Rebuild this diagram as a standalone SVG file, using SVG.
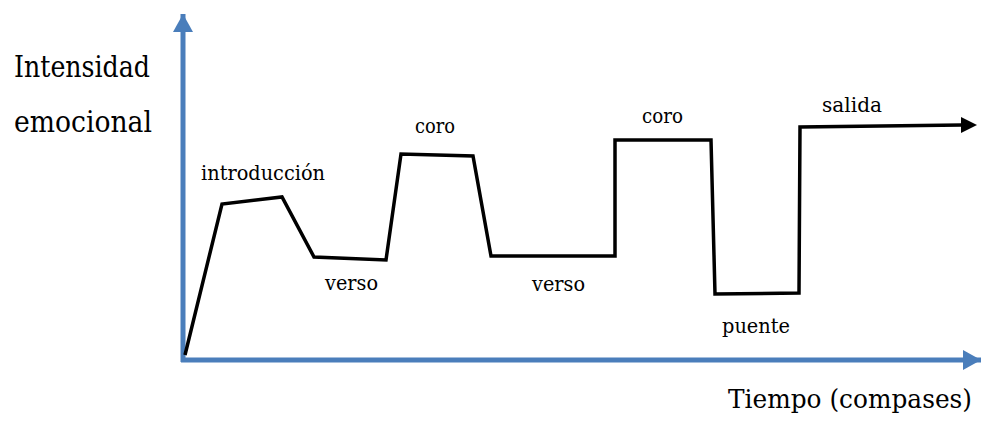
<svg xmlns="http://www.w3.org/2000/svg" width="986" height="421" viewBox="0 0 986 421">
<style>
.axis{stroke:#4a7ebb;stroke-width:5;fill:none}
.curve{stroke:#000;stroke-width:3.5;fill:none;stroke-linejoin:miter}
text{font-family:"DejaVu Serif","Liberation Serif","Times New Roman",serif;fill:#000}
.big{font-size:30px}
.lbl{font-size:21px}
</style>
<defs>
<marker id="ab" markerUnits="userSpaceOnUse" markerWidth="20" markerHeight="22" refX="18" refY="10" orient="auto">
<path d="M0,0 L18,10 L0,20 Z" fill="#4a7ebb"/>
</marker>
</defs>
<rect width="986" height="421" fill="#fff"/>
<g id="connectors">
<line id="y-axis" class="axis" x1="183" y1="362" x2="183" y2="14" marker-end="url(#ab)"/>
<line id="x-axis" class="axis" x1="181" y1="360" x2="981" y2="360" marker-end="url(#ab)"/>
<polyline id="curve" class="curve" points="185,355 222,204 282,197 314,257 386,260 401,154 473,156 491,256 615,256 615,140 711,140 715,294 799,293 800,127 962,125" />
<polygon points="961,117 977,125 961,133" fill="#000"/>
</g>
<g id="axis-labels">
<text class="big" x="14" y="77" textLength="136" lengthAdjust="spacingAndGlyphs">Intensidad</text>
<text class="big" x="14" y="132" textLength="138" lengthAdjust="spacingAndGlyphs">emocional</text>
<text x="728" y="408" font-size="26" textLength="244" lengthAdjust="spacingAndGlyphs">Tiempo (compases)</text>
</g>
<g id="section-labels">
<text class="lbl" x="201" y="180" textLength="124" lengthAdjust="spacingAndGlyphs">introducción</text>
<text class="lbl" x="325" y="290" textLength="53" lengthAdjust="spacingAndGlyphs">verso</text>
<text class="lbl" x="415" y="133" textLength="40" lengthAdjust="spacingAndGlyphs">coro</text>
<text class="lbl" x="532" y="291" textLength="53" lengthAdjust="spacingAndGlyphs">verso</text>
<text class="lbl" x="642" y="123" textLength="41" lengthAdjust="spacingAndGlyphs">coro</text>
<text class="lbl" x="722" y="333" textLength="68" lengthAdjust="spacingAndGlyphs">puente</text>
<text class="lbl" x="822" y="112" textLength="60" lengthAdjust="spacingAndGlyphs">salida</text>
</g>
</svg>
